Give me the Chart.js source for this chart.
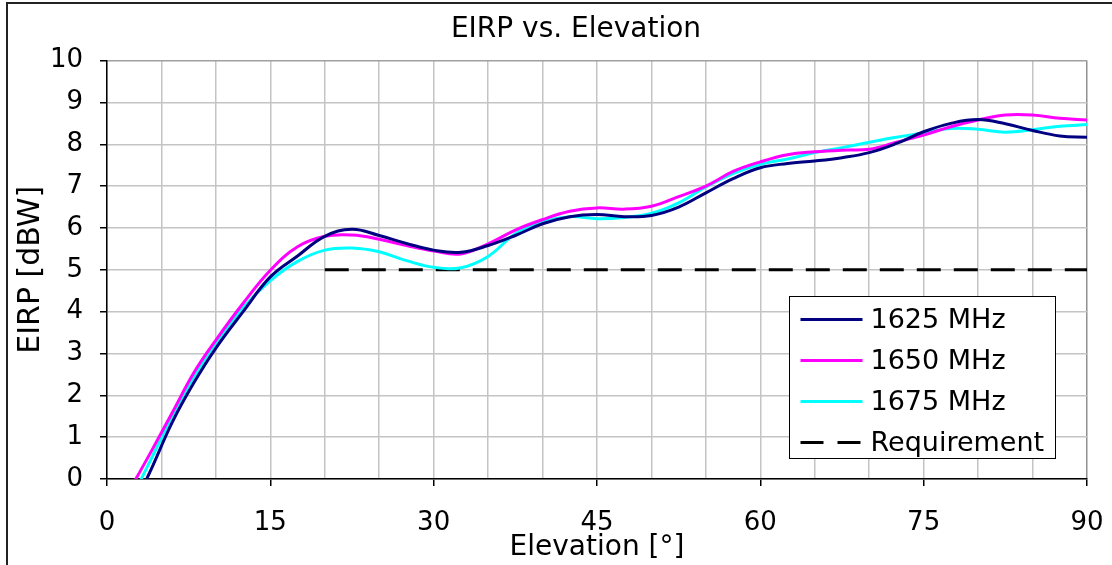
<!DOCTYPE html>
<html>
<head>
<meta charset="utf-8">
<title>EIRP vs. Elevation</title>
<script src="https://cdn.jsdelivr.net/npm/chart.js@4.4.1/dist/chart.umd.min.js"></script>
<style>
  html, body { margin: 0; padding: 0; background: #fff; }
  #wrap { position: relative; width: 1112px; height: 565px; }
</style>
</head>
<body>
<div id="wrap"><canvas id="eirpChart"></canvas></div>
<script>
// =============================================
// EIRP vs. Elevation - measured curves + requirement
// =============================================

// Elevation angles (deg) shared by the measured curves
const elevation = [2, 4, 6, 8, 10, 12.5, 15, 17.5, 20, 22.5, 25, 27.5, 30, 32.5, 35, 37.5, 40, 42.5,
  45, 47.5, 50, 52.5, 55, 57.5, 60, 62.5, 65, 67.5, 70, 72.5, 75, 77.5, 80, 82.5, 85, 87.5, 90];

// EIRP [dBW] per frequency
const eirp1625 = [-0.9, 0.2, 1.36, 2.31, 3.13, 4.0, 4.83, 5.33, 5.8, 5.97, 5.82, 5.63, 5.47, 5.42, 5.58, 5.82, 6.1, 6.27,
  6.32, 6.27, 6.3, 6.5, 6.84, 7.18, 7.44, 7.54, 7.6, 7.68, 7.8, 8.02, 8.3, 8.5, 8.59, 8.49, 8.33, 8.2, 8.17];
const eirp1650 = [-0.3, 0.63, 1.59, 2.55, 3.32, 4.2, 4.99, 5.55, 5.8, 5.83, 5.73, 5.58, 5.45, 5.38, 5.62, 5.95, 6.2, 6.4,
  6.48, 6.45, 6.52, 6.75, 7.0, 7.35, 7.58, 7.75, 7.82, 7.86, 7.88, 8.05, 8.22, 8.42, 8.58, 8.7, 8.7, 8.62, 8.58];
const eirp1675 = [-0.6, 0.45, 1.5, 2.45, 3.25, 4.1, 4.74, 5.2, 5.47, 5.52, 5.43, 5.22, 5.06, 5.05, 5.32, 5.86, 6.15, 6.27,
  6.22, 6.25, 6.35, 6.6, 6.98, 7.3, 7.52, 7.65, 7.8, 7.92, 8.05, 8.17, 8.27, 8.38, 8.36, 8.29, 8.35, 8.43, 8.47];

// Requirement line
const reqElevation = [20, 90];
const reqEirp = [5, 5];

const seriesLabels = ['1625 MHz', '1650 MHz', '1675 MHz', 'Requirement'];
const seriesColors = ['#000080', '#ff00ff', '#00ffff', '#000000'];

const FONT = 'DejaVu Sans, Verdana, sans-serif';

function toPoints(xs, ys) {
  return xs.map((x, i) => ({ x: x, y: ys[i] }));
}

function curve(label, color, xs, ys) {
  return {
    label: label,
    data: toPoints(xs, ys),
    borderColor: color,
    backgroundColor: color,
    borderWidth: 3,
    pointRadius: 0,
    tension: 0.4,
    fill: false
  };
}

// Outer frame around the whole chart (runs past the right/bottom edge)
const framePlugin = {
  id: 'frame',
  afterDraw(chart) {
    const ctx = chart.ctx;
    ctx.save();
    ctx.strokeStyle = '#222';
    ctx.lineWidth = 2;
    ctx.strokeRect(7, 3, 1200, 700);
    ctx.restore();
  }
};

// Title is centred on the full (wider) chart object, not the plot
const titleShiftPlugin = {
  id: 'titleShift',
  afterLayout(chart) {
    if (chart.titleBlock) {
      chart.titleBlock.left = 0;
      chart.titleBlock.right = 1152;
      chart.titleBlock.width = 1152;
    }
  }
};

// Boxed legend inside the plot area (lower right)
const legendBox = { left: 789.5, top: 296.5, width: 266, height: 162 };
const boxLegendPlugin = {
  id: 'boxLegend',
  afterDraw(chart) {
    const ctx = chart.ctx;
    const b = legendBox;
    ctx.save();
    ctx.fillStyle = '#fff';
    ctx.fillRect(b.left, b.top, b.width, b.height);
    ctx.strokeStyle = '#000';
    ctx.lineWidth = 1;
    ctx.strokeRect(b.left, b.top, b.width, b.height);

    chart.data.datasets.forEach((ds, i) => {
      const y = b.top + 23 + i * 41;
      ctx.beginPath();
      ctx.strokeStyle = ds.borderColor;
      ctx.lineWidth = 3;
      ctx.setLineDash(ds.borderDash ? [23, 14] : []);
      ctx.moveTo(b.left + 11, y);
      ctx.lineTo(b.left + 73, y);
      ctx.stroke();
      ctx.setLineDash([]);
      ctx.fillStyle = '#000';
      ctx.font = '27px ' + FONT;
      ctx.textBaseline = 'middle';
      ctx.textAlign = 'left';
      ctx.fillText(ds.label, b.left + 81, y + 1);
    });
    ctx.restore();
  }
};

const ctx = document.getElementById('eirpChart');

new Chart(ctx, {
  type: 'line',
  data: {
    datasets: [
      curve(seriesLabels[0], seriesColors[0], elevation, eirp1625),
      curve(seriesLabels[1], seriesColors[1], elevation, eirp1650),
      curve(seriesLabels[2], seriesColors[2], elevation, eirp1675),
      {
        label: seriesLabels[3],
        data: toPoints(reqElevation, reqEirp),
        borderColor: seriesColors[3],
        backgroundColor: seriesColors[3],
        borderWidth: 3,
        borderDash: [24, 13],
        borderCapStyle: 'butt',
        pointRadius: 0,
        tension: 0,
        fill: false
      }
    ]
  },
  options: {
    responsive: true,
    maintainAspectRatio: false,
    animation: false,
    devicePixelRatio: 1,
    layout: { padding: { left: 0, right: 25, top: 0, bottom: 0 } },
    plugins: {
      legend: { display: false },
      tooltip: { enabled: false },
      title: {
        display: true,
        text: 'EIRP vs. Elevation',
        color: '#000',
        font: { family: FONT, size: 28, weight: 'normal' },
        padding: { top: 13, bottom: 14 }
      }
    },
    scales: {
      x: {
        type: 'linear',
        min: 0,
        max: 90,
        afterFit(scale) {
          scale.height = 86;
          scale.paddingRight = 10;   // don't let tick padding widen the right margin
        },
        border: { color: '#000', width: 1.5 },
        grid: {
          color: (c) => c.tick && c.tick.value === 90 ? '#909090' : '#c4c4c4',
          lineWidth: 1.5,
          tickLength: 7,
          tickColor: (c) => c.tick && c.tick.value % 15 === 0 ? '#000' : 'rgba(0,0,0,0)'
        },
        ticks: {
          stepSize: 5,
          autoSkip: false,
          maxRotation: 0,
          padding: 22,
          color: '#000',
          font: { family: FONT, size: 26 },
          callback: (v) => (v % 15 === 0 ? v : '')
        },
        title: {
          display: true,
          text: 'Elevation [°]',
          color: '#000',
          font: { family: FONT, size: 28 },
          padding: { top: 0, bottom: 0 }
        }
      },
      y: {
        min: 0,
        max: 10,
        afterFit(scale) { scale.width = 107; },
        border: { color: '#000', width: 1.5 },
        grid: {
          color: (c) => c.tick && c.tick.value === 10 ? '#a0a0a0' : '#c4c4c4',
          lineWidth: 1.5,
          tickLength: 7,
          tickColor: '#000'
        },
        ticks: {
          stepSize: 1,
          padding: 17,
          color: '#000',
          font: { family: FONT, size: 26 }
        },
        title: {
          display: true,
          text: 'EIRP [dBW]',
          color: '#000',
          font: { family: FONT, size: 30 },
          padding: { top: 13, bottom: 0 }
        }
      }
    }
  },
  plugins: [titleShiftPlugin, boxLegendPlugin, framePlugin]
});
</script>
</body>
</html>
